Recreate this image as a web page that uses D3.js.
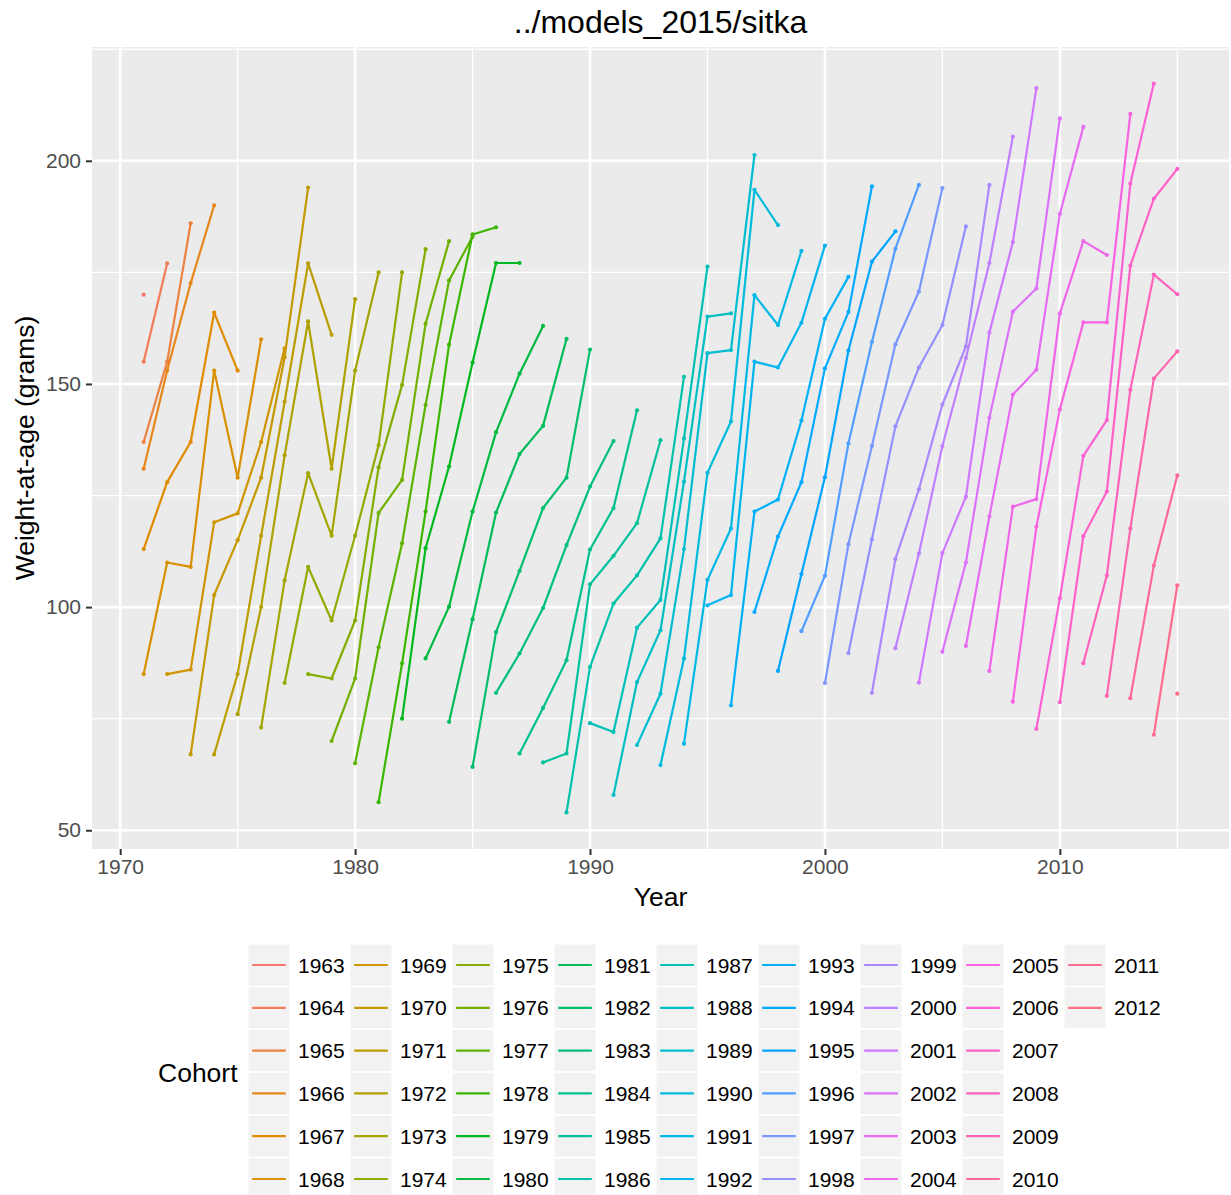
<!DOCTYPE html>
<html>
<head>
<meta charset="utf-8">
<script src="https://cdn.jsdelivr.net/npm/d3@7"></script>
<style>
  body { margin: 0; background: #fff; }
  text { font-family: "Liberation Sans", Arial, Helvetica, sans-serif; }
</style>
</head>
<body>
<div id="chart"></div>
<script>
var svgWidth = 1231;
var svgHeight = 1195;

// survey years
var years = [1971, 1972, 1973, 1974, 1975, 1976, 1977, 1978, 1979, 1980,
	1981, 1982, 1983, 1984, 1985, 1986, 1987, 1988, 1989, 1990,
	1991, 1992, 1993, 1994, 1995, 1996, 1997, 1998, 1999, 2000,
	2001, 2002, 2003, 2004, 2005, 2006, 2007, 2008, 2009, 2010,
	2011, 2012, 2013, 2014, 2015];

// weight-at-age (grams) per year
var age3 = [85, 85, 67, 67, 76, 73, 83, 85, 70, 65,
	56.3, 75, 88.5, 74.3, 64.2, 80.8, 67.2, 65.2, 54, 74,
	57.9, 69.1, 64.6, 69.4, 100.4, 78, 98.9, 85.7, 94.6, 83,
	89.7, 80.8, 90.8, 83.1, 90, 91.3, 85.7, 78.8, 72.7, 78.7,
	87.4, 80.1, 79.6, 71.4, 80.6];
var age4 = [113, 110, 86, 102.7, 85, 100, 106, 109, 84, 84,
	91, 87.4, 113.2, 100.1, 97.3, 94.4, 89.6, 77.4, 67.2, 86.6,
	72, 83.2, 80.6, 88.5, 106.1, 102.7, 121.4, 115.8, 107.4, 107,
	114.1, 115.2, 110.8, 112, 112.1, 110, 120.3, 122.5, 118, 102,
	115.9, 107.1, 117.6, 109.3, 104.9];
var age5 = [131, 128, 109, 119, 115, 116, 134, 130, 97, 97,
	121.1, 114.3, 121.4, 131.5, 121.4, 121.2, 108.1, 99.8, 88.1, 105.1,
	100.8, 95.4, 94.8, 113, 130.1, 117.6, 155, 124.1, 128, 129.1,
	136.7, 136.1, 140.5, 126.4, 136.1, 124.7, 142.4, 147.6, 124.2, 144.3,
	133.9, 125.9, 148.7, 151.2, 129.5];
var age6 = [137, 153, 137, 153, 121, 129, 146, 164, 116, 116,
	131.3, 128.5, 145.3, 158.8, 154.8, 139.2, 134.3, 122.2, 113.9, 112.9,
	111.5, 107.1, 101.6, 128.1, 156.9, 141.6, 169.9, 153.7, 141.8, 153.5,
	157.5, 159.4, 158.9, 153.7, 145.4, 155.8, 161.5, 166.2, 153.2, 165.8,
	163.8, 141.9, 176.5, 174.5, 157.3];
var age7 = [155, 155, 172.6, 166, 129, 137, 156, 177, 131, 153,
	136.3, 149.8, 163.5, 173.2, 183.5, 177.1, 152.3, 140.6, 129, 127,
	122.2, 118.8, 115.4, 137.8, 165.1, 157.6, 193.5, 163.2, 163.7, 164.6,
	166.1, 177.4, 180.3, 170.7, 163.2, 158.4, 177.1, 181.8, 171.4, 188.1,
	182, 163.8, 194.9, 191.5, 170.1];
var age8 = [170, 177, 186, 190, 153, 160, 158, 194, 161, 169,
	175, 175, 180.2, 182, 183, 185.1, 177.1, 163, 160.1, 157.7,
	137.2, 144.1, 137.4, 151.6, 176.3, 165.8, 201.3, 185.6, 179.8, 181,
	174, 194.3, 184.2, 194.6, 193.9, 185.3, 194.6, 205.4, 216.3, 209.5,
	207.6, 178.9, 210.5, 217.3, 198.2];

var ages = [3, 4, 5, 6, 7, 8];
var byAge = [age3, age4, age5, age6, age7, age8];

var xBreaks = [1970, 1980, 1990, 2000, 2010];
var xMinor = [1975, 1985, 1995, 2005, 2015];
var yBreaks = [50, 100, 150, 200];
var yMinor = [75, 125, 175, 225];

// flatten into one row per year/age, cohort = year - age
var rows = [];
years.forEach(function(yr, j) {
	ages.forEach(function(a, k) {
		rows.push({ year: yr, age: a, cohort: yr - a, w: byAge[k][j] });
	});
});
var cohorts = Array.from(new Set(rows.map(function(d) { return d.cohort; }))).sort(d3.ascending);
var groups = d3.groups(rows, function(d) { return d.cohort; })
	.sort(function(a, b) { return a[0] - b[0]; });

// R's hcl() (polar Luv) so the hues match ggplot's default palette
function hclR(h, c, l) {
	var hr = h * Math.PI / 180;
	var U = c * Math.cos(hr), V = c * Math.sin(hr);
	var Y = 100 * (l > 7.999592 ? Math.pow((l + 16) / 116, 3) : l / 903.3);
	var u = U / (13 * l) + 0.1978398;
	var v = V / (13 * l) + 0.4683363;
	var X = 9 * Y * u / (4 * v);
	var Z = -X / 3 - 5 * Y + 3 * Y / v;
	function g(t) {
		t = t > 0.00304 ? 1.055 * Math.pow(t, 1 / 2.4) - 0.055 : 12.92 * t;
		return Math.round(255 * Math.max(0, Math.min(1, t)));
	}
	return d3.rgb(
		g((3.240479 * X - 1.537150 * Y - 0.498535 * Z) / 100),
		g((-0.969256 * X + 1.875992 * Y + 0.041556 * Z) / 100),
		g((0.055648 * X - 0.204043 * Y + 1.057311 * Z) / 100)).formatHex();
}
var n = cohorts.length;
var hues = cohorts.map(function(c, i) { return (15 + i * 360 / n) % 360; });
var color = d3.scaleOrdinal()
	.domain(cohorts)
	.range(hues.map(function(h) { return hclR(h, 100, 65); }));

var x = d3.scaleLinear()
	.domain([1968.8, 2017.2])
	.range([92, 1229]);
var y = d3.scaleLinear()
	.domain([45.8, 225.5])
	.range([849, 47]);

var svg = d3.select("#chart")
	.append("svg")
	.attr("width", svgWidth)
	.attr("height", svgHeight);

svg.append("rect")
	.attr("width", svgWidth)
	.attr("height", svgHeight)
	.attr("fill", "#fff");

// panel
svg.append("rect")
	.attr("x", x.range()[0])
	.attr("y", y.range()[1])
	.attr("width", x.range()[1] - x.range()[0])
	.attr("height", y.range()[0] - y.range()[1])
	.attr("fill", "#EBEBEB");

var grid = svg.append("g").attr("stroke", "#fff").attr("fill", "none");
xMinor.forEach(function(v) {
	grid.append("line").attr("x1", x(v)).attr("x2", x(v))
		.attr("y1", y.range()[0]).attr("y2", y.range()[1]).attr("stroke-width", 1.3);
});
yMinor.forEach(function(v) {
	grid.append("line").attr("y1", y(v)).attr("y2", y(v))
		.attr("x1", x.range()[0]).attr("x2", x.range()[1]).attr("stroke-width", 1.3);
});
xBreaks.forEach(function(v) {
	grid.append("line").attr("x1", x(v)).attr("x2", x(v))
		.attr("y1", y.range()[0]).attr("y2", y.range()[1]).attr("stroke-width", 2.6);
});
yBreaks.forEach(function(v) {
	grid.append("line").attr("y1", y(v)).attr("y2", y(v))
		.attr("x1", x.range()[0]).attr("x2", x.range()[1]).attr("stroke-width", 2.6);
});

var line = d3.line()
	.x(function(d) { return x(d.year); })
	.y(function(d) { return y(d.w); });

svg.append("g")
	.selectAll("path")
	.data(groups)
	.enter().append("path")
	.attr("fill", "none")
	.attr("stroke", function(d) { return color(d[0]); })
	.attr("stroke-width", 2.2)
	.attr("stroke-linejoin", "round")
	.attr("d", function(d) { return line(d[1].slice().sort(function(a, b) { return a.year - b.year; })); });

svg.append("g")
	.selectAll("circle")
	.data(rows)
	.enter().append("circle")
	.attr("r", 2.1)
	.attr("cx", function(d) { return x(d.year); })
	.attr("cy", function(d) { return y(d.w); })
	.attr("fill", function(d) { return color(d.cohort); });

// axes
var xAxis = svg.append("g")
	.attr("transform", "translate(0," + y.range()[0] + ")")
	.call(d3.axisBottom(x).tickValues(xBreaks).tickFormat(d3.format("d")).tickSize(6).tickPadding(4));
var yAxis = svg.append("g")
	.attr("transform", "translate(" + x.range()[0] + ",0)")
	.call(d3.axisLeft(y).tickValues(yBreaks).tickSize(6).tickPadding(5));
[xAxis, yAxis].forEach(function(g) {
	g.select(".domain").remove();
	g.selectAll(".tick line").attr("stroke", "#333").attr("stroke-width", 2);
	g.selectAll(".tick text")
		.attr("fill", "#4D4D4D")
		.style("font-size", "21px")
		.style("font-family", "'Liberation Sans', Arial, sans-serif");
});

svg.append("text")
	.attr("x", (x.range()[0] + x.range()[1]) / 2)
	.attr("y", 33)
	.attr("text-anchor", "middle")
	.style("font-size", "32px")
	.text("../models_2015/sitka");

svg.append("text")
	.attr("x", (x.range()[0] + x.range()[1]) / 2)
	.attr("y", 906)
	.attr("text-anchor", "middle")
	.style("font-size", "26.5px")
	.text("Year");

svg.append("text")
	.attr("transform", "translate(34," + ((y.range()[0] + y.range()[1]) / 2) + ") rotate(-90)")
	.attr("text-anchor", "middle")
	.style("font-size", "26.5px")
	.text("Weight-at-age (grams)");

// legend, 6 rows filled by column
var legRows = 6, legX = 248, legY = 944, colStep = 102, rowStep = 42.8, keyW = 42, keyH = 42;
var leg = svg.append("g");
leg.append("text")
	.attr("x", 158)
	.attr("y", 1082)
	.style("font-size", "26.5px")
	.text("Cohort");

var item = leg.selectAll("g.item")
	.data(cohorts)
	.enter().append("g")
	.attr("class", "item")
	.attr("transform", function(d, i) {
		return "translate(" + (legX + Math.floor(i / legRows) * colStep) + "," + (legY + (i % legRows) * rowStep) + ")";
	});
item.append("rect")
	.attr("width", keyW)
	.attr("height", keyH)
	.attr("fill", "#F2F2F2")
	.attr("stroke", "#fff")
	.attr("stroke-width", 1);
item.append("line")
	.attr("x1", keyW * 0.1)
	.attr("x2", keyW * 0.9)
	.attr("y1", keyH / 2)
	.attr("y2", keyH / 2)
	.attr("stroke", function(d) { return color(d); })
	.attr("stroke-width", 2.2);
item.append("text")
	.attr("x", keyW + 8)
	.attr("y", keyH / 2 + 7.5)
	.style("font-size", "21px")
	.text(function(d) { return d; });
</script>
</body>
</html>
